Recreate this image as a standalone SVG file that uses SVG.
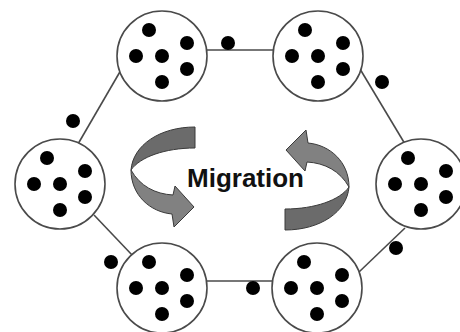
<svg xmlns="http://www.w3.org/2000/svg" xmlns:xlink="http://www.w3.org/1999/xlink" width="460" height="332" viewBox="0 0 460 332">
  <style>
    .link { stroke: #4a4a4a; stroke-width: 1.6; fill: none; }
    .ring { fill: #ffffff; stroke: #4a4a4a; stroke-width: 1.6; }
    .ind { fill: #000000; }
    .tail { fill: #6b6b6b; stroke: #3a3a3a; stroke-width: 1; stroke-linejoin: round; }
    .head { fill: #818181; stroke: #3a3a3a; stroke-width: 1; stroke-linejoin: round; }
    .label { font-family: "Liberation Sans", Arial, sans-serif; font-weight: bold; font-size: 26px; fill: #111111; }
  </style>
  <defs>
    <!-- a subpopulation: circle with six individuals -->
    <g id="pop">
      <circle class="ring" cx="0" cy="0" r="45"/>
      <circle class="ind" cx="-13" cy="-26" r="7"/>
      <circle class="ind" cx="25" cy="-13" r="7"/>
      <circle class="ind" cx="-26" cy="0" r="7"/>
      <circle class="ind" cx="0" cy="0" r="7"/>
      <circle class="ind" cx="25" cy="13" r="7"/>
      <circle class="ind" cx="0" cy="26" r="7"/>
    </g>
    <!-- twisted curved arrow: darker tail band, lighter head band -->
    <g id="turn">
      <path class="head" d="M131,170 C131,195 150,212 172,214 L174,227 L194,207 L175,186 L173,195 C155,194 140,186 131,170 Z"/>
      <path class="tail" d="M195,127 C160,127 133,145 131,170 C140,157 165,148 195,148 Z"/>
    </g>
  </defs>

  <rect width="460" height="332" fill="#ffffff"/>

  <!-- connectors between neighbouring subpopulations -->
  <g id="connectors">
    <line class="link" x1="200" y1="50" x2="280" y2="50"/>
    <line class="link" x1="200" y1="281" x2="280" y2="281"/>
    <line class="link" x1="78" y1="144" x2="121" y2="70"/>
    <line class="link" x1="94" y1="215" x2="133" y2="256"/>
    <line class="link" x1="360" y1="69" x2="405" y2="144"/>
    <line class="link" x1="405" y1="228" x2="359" y2="272"/>
  </g>

  <!-- subpopulations -->
  <g id="pop-top-left"><use xlink:href="#pop" href="#pop" x="162" y="56"/></g>
  <g id="pop-top-right"><use xlink:href="#pop" href="#pop" x="318" y="56"/></g>
  <g id="pop-left"><use xlink:href="#pop" href="#pop" x="60" y="184"/></g>
  <g id="pop-right"><use xlink:href="#pop" href="#pop" x="421" y="184"/></g>
  <g id="pop-bottom-left"><use xlink:href="#pop" href="#pop" x="162" y="288"/></g>
  <g id="pop-bottom-right"><use xlink:href="#pop" href="#pop" x="317" y="288"/></g>

  <!-- migrating individuals -->
  <g id="migrants">
    <circle class="ind" cx="228" cy="43" r="7"/>
    <circle class="ind" cx="73" cy="121" r="7"/>
    <circle class="ind" cx="111" cy="262" r="7"/>
    <circle class="ind" cx="253" cy="288" r="7"/>
    <circle class="ind" cx="382" cy="82" r="7"/>
    <circle class="ind" cx="396" cy="248" r="7"/>
  </g>

  <!-- central migration symbol -->
  <g id="arrow-left"><use xlink:href="#turn" href="#turn"/></g>
  <g id="arrow-right"><use xlink:href="#turn" href="#turn" transform="rotate(180 240 178.5)"/></g>
  <g id="label">
    <text class="label" x="187" y="187">Migration</text>
  </g>
</svg>
